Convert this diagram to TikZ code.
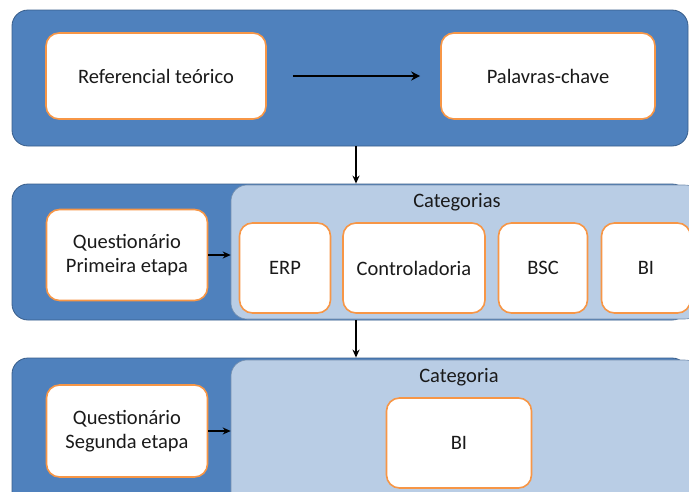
\documentclass[tikz,border=0pt]{standalone}
\usepackage{fontspec}
\setmainfont{Carlito}
\usetikzlibrary{arrows.meta,calc}
\definecolor{darkblue}{HTML}{4F81BD}
\definecolor{edgeblue}{HTML}{385D8A}
\definecolor{lightblue}{HTML}{B9CDE5}
\definecolor{boxorange}{HTML}{F79646}
\definecolor{txt}{HTML}{1A1A1A}
\tikzset{
  band/.style={draw=edgeblue, line width=0.8pt, fill=darkblue, rounded corners=16pt, inner sep=0pt},
  panel/.style={draw=edgeblue!70, line width=0.6pt, fill=lightblue, rounded corners=16pt, inner sep=0pt},
  wbox/.style={draw=boxorange, line width=1.6pt, fill=white, rounded corners=13pt, inner sep=0pt,
               align=center, font=\fontsize{20.5}{24}\selectfont, text=txt},
  lbl/.style={font=\fontsize{20.5}{24}\selectfont, text=txt, inner sep=0pt},
  arr/.style={-{Stealth[length=8pt,width=7pt]}, line width=1.4pt, black},
  bigarr/.style={-{Stealth[length=9pt,width=9pt]}, line width=2.2pt, black}
}
\begin{document}
\begin{tikzpicture}[x=1pt,y=-1pt]
\useasboundingbox (0,0) rectangle (689,491);
\clip (0,0) rectangle (689,491);
% band 1
\node[band, minimum width=676pt, minimum height=136pt] (band1) at (350,78) {};
\node[wbox, minimum width=220pt, minimum height=86pt] (ref) at (156,76) {Referencial teórico};
\node[wbox, minimum width=214pt, minimum height=86pt] (pal) at (548,76) {Palavras-chave};
\draw[bigarr] ($(ref.east)+(26,0)$) -- ($(pal.west)+(-20,0)$);
% band 2
\node[band, minimum width=676pt, minimum height=136pt] (band2) at (350,252) {};
\node[panel, minimum width=470pt, minimum height=134pt] (cats) at (466,252) {};
\node[lbl] (catlbl) at (457,202) {Categorias};
\node[wbox, minimum width=161pt, minimum height=91pt] (q1) at (127,255) {Questionário\\Primeira etapa};
\node[wbox, minimum width=91pt, minimum height=90pt] (erp) at (285,268) {ERP};
\node[wbox, minimum width=142pt, minimum height=90pt] (ctrl) at (414,268) {Controladoria};
\node[wbox, minimum width=89pt, minimum height=90pt] (bsc) at (543,268) {BSC};
\node[wbox, minimum width=89pt, minimum height=90pt] (bi1) at (646,268) {BI};
\draw[arr] (q1.east) -- (cats.west |- q1.east);
% band 3
\node[band, minimum width=676pt, minimum height=160pt] (band3) at (350,438) {};
\node[panel, minimum width=470pt, minimum height=158pt] (cat) at (466,439) {};
\node[lbl] (cat2lbl) at (459,377) {Categoria};
\node[wbox, minimum width=161pt, minimum height=92pt] (q2) at (127,431) {Questionário\\Segunda etapa};
\node[wbox, minimum width=145pt, minimum height=90pt] (bi2) at (459,443) {BI};
\draw[arr] (q2.east) -- (cat.west |- q2.east);
% vertical connectors
\coordinate (ax) at (356,0);
\draw[arr] (band1.south -| ax) -- (band2.north -| ax);
\draw[arr] (band2.south -| ax) -- (band3.north -| ax);
\end{tikzpicture}
\end{document}
